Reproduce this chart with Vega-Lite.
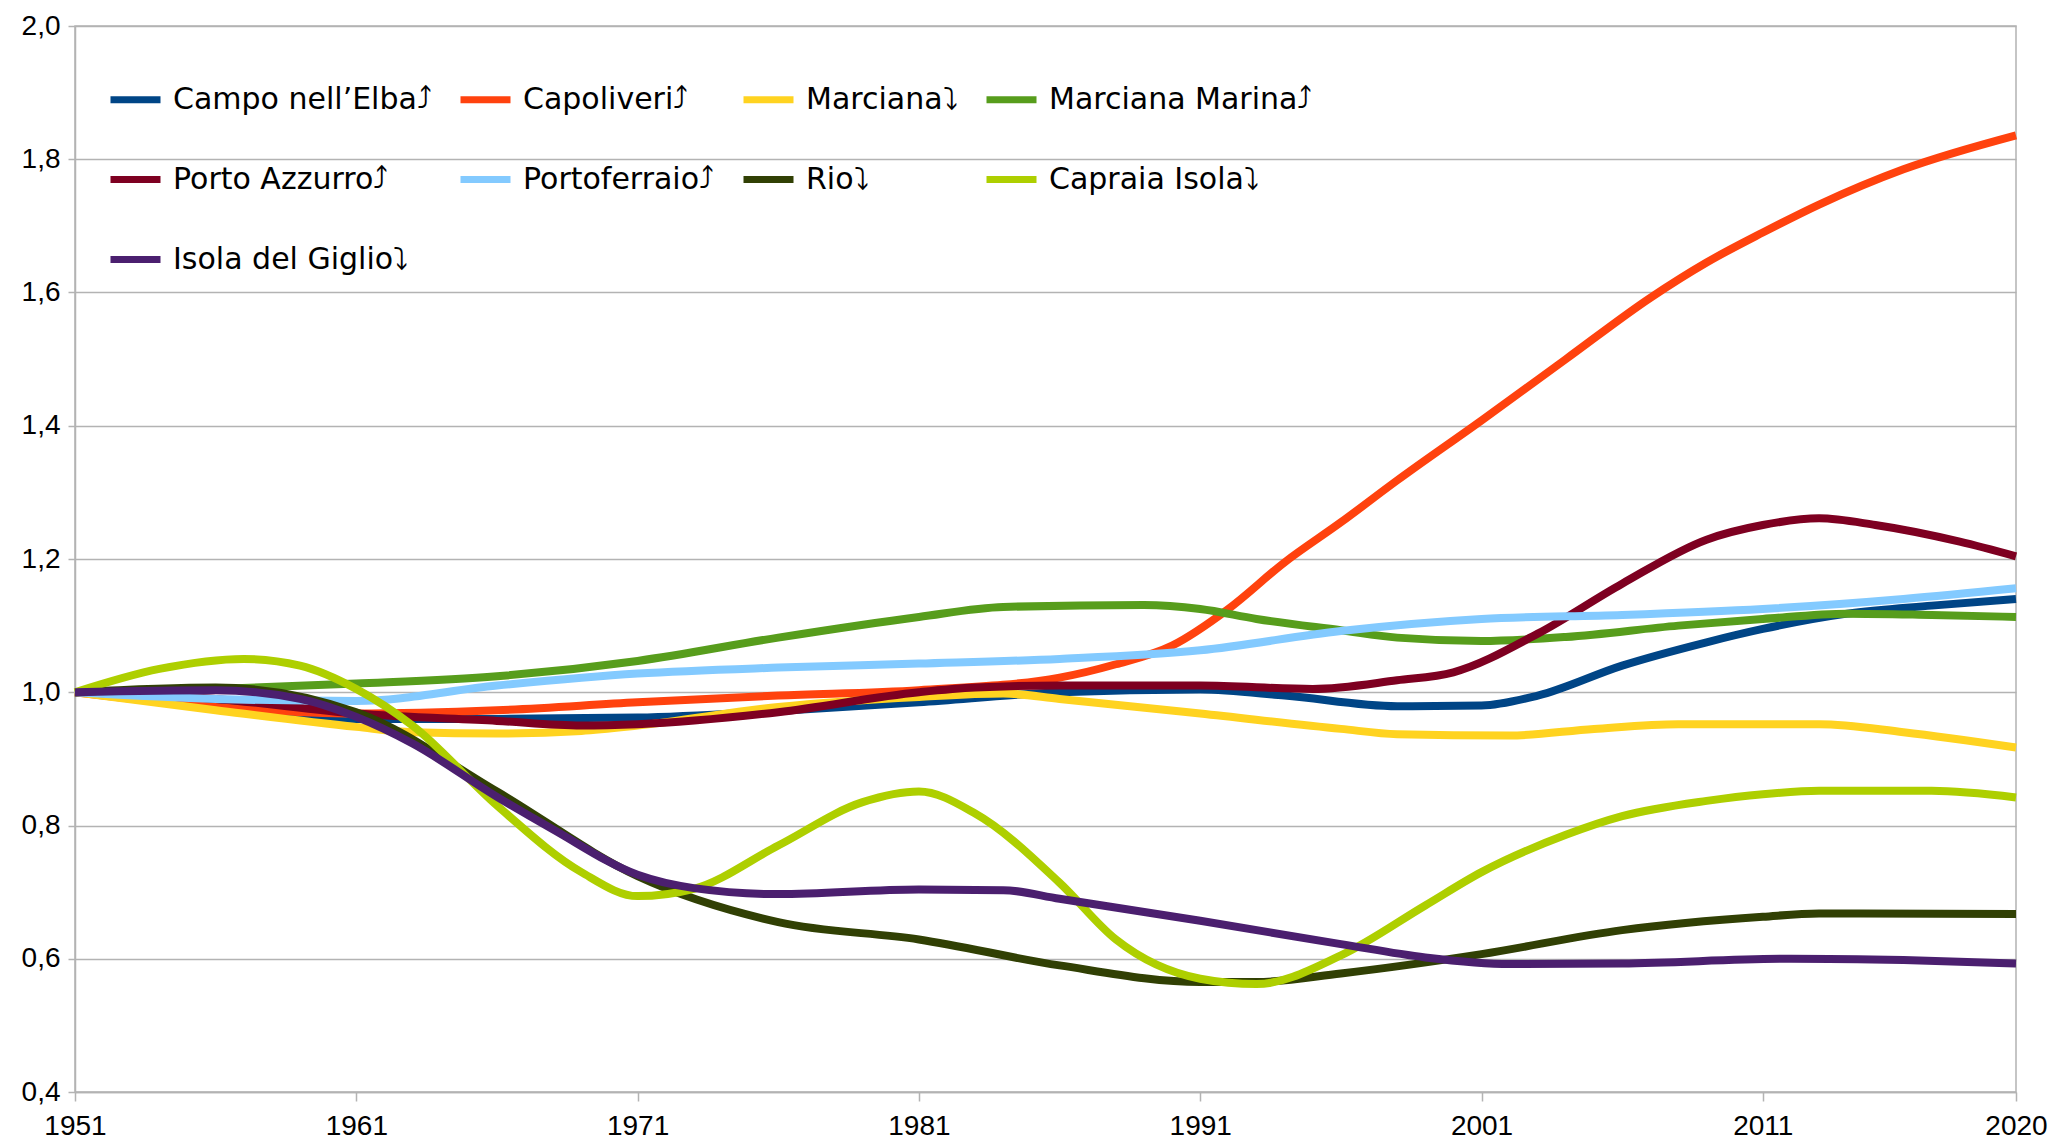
{
  "$schema": "https://vega.github.io/schema/vega-lite/v6.json",
  "width": 1941,
  "height": 1066,
  "autosize": "none",
  "padding": {"left": 75, "top": 26, "right": 37, "bottom": 50},
  "background": "white",
  "config": {
    "view": {"stroke": "#b3b3b3", "strokeWidth": 1.5},
    "font": "Liberation Sans Narrow, Liberation Sans, sans-serif"
  },
  "data": {"values": [
    {"c":"Campo nell’Elba","y":1951,"v":1.0},{"c":"Campo nell’Elba","y":1956,"v":0.985},{"c":"Campo nell’Elba","y":1961,"v":0.96},{"c":"Campo nell’Elba","y":1966,"v":0.96},{"c":"Campo nell’Elba","y":1971,"v":0.962},{"c":"Campo nell’Elba","y":1976,"v":0.972},{"c":"Campo nell’Elba","y":1981,"v":0.985},{"c":"Campo nell’Elba","y":1986,"v":1.0},{"c":"Campo nell’Elba","y":1991,"v":1.004},{"c":"Campo nell’Elba","y":1994,"v":0.995},{"c":"Campo nell’Elba","y":1998,"v":0.979},{"c":"Campo nell’Elba","y":2001,"v":0.98},{"c":"Campo nell’Elba","y":2003,"v":0.995},{"c":"Campo nell’Elba","y":2006,"v":1.04},{"c":"Campo nell’Elba","y":2009,"v":1.075},{"c":"Campo nell’Elba","y":2011,"v":1.095},{"c":"Campo nell’Elba","y":2014,"v":1.118},{"c":"Campo nell’Elba","y":2017,"v":1.13},{"c":"Campo nell’Elba","y":2020,"v":1.14},
    {"c":"Capoliveri","y":1951,"v":1.0},{"c":"Capoliveri","y":1956,"v":0.978},{"c":"Capoliveri","y":1961,"v":0.968},{"c":"Capoliveri","y":1966,"v":0.973},{"c":"Capoliveri","y":1971,"v":0.985},{"c":"Capoliveri","y":1976,"v":0.995},{"c":"Capoliveri","y":1981,"v":1.003},{"c":"Capoliveri","y":1986,"v":1.022},{"c":"Capoliveri","y":1988,"v":1.042},{"c":"Capoliveri","y":1990,"v":1.07},{"c":"Capoliveri","y":1992,"v":1.125},{"c":"Capoliveri","y":1994,"v":1.195},{"c":"Capoliveri","y":1996,"v":1.255},{"c":"Capoliveri","y":1998,"v":1.318},{"c":"Capoliveri","y":2001,"v":1.408},{"c":"Capoliveri","y":2004,"v":1.5},{"c":"Capoliveri","y":2007,"v":1.592},{"c":"Capoliveri","y":2009,"v":1.645},{"c":"Capoliveri","y":2011,"v":1.69},{"c":"Capoliveri","y":2013,"v":1.732},{"c":"Capoliveri","y":2016,"v":1.785},{"c":"Capoliveri","y":2020,"v":1.836},
    {"c":"Marciana","y":1951,"v":1.0},{"c":"Marciana","y":1956,"v":0.973},{"c":"Marciana","y":1961,"v":0.948},{"c":"Marciana","y":1963,"v":0.94},{"c":"Marciana","y":1966,"v":0.938},{"c":"Marciana","y":1969,"v":0.942},{"c":"Marciana","y":1971,"v":0.95},{"c":"Marciana","y":1976,"v":0.978},{"c":"Marciana","y":1981,"v":0.993},{"c":"Marciana","y":1984,"v":0.998},{"c":"Marciana","y":1986,"v":0.99},{"c":"Marciana","y":1991,"v":0.968},{"c":"Marciana","y":1996,"v":0.945},{"c":"Marciana","y":1998,"v":0.937},{"c":"Marciana","y":2002,"v":0.935},{"c":"Marciana","y":2005,"v":0.945},{"c":"Marciana","y":2008,"v":0.952},{"c":"Marciana","y":2013,"v":0.952},{"c":"Marciana","y":2016,"v":0.94},{"c":"Marciana","y":2020,"v":0.917},
    {"c":"Marciana Marina","y":1951,"v":1.0},{"c":"Marciana Marina","y":1956,"v":1.005},{"c":"Marciana Marina","y":1961,"v":1.013},{"c":"Marciana Marina","y":1966,"v":1.024},{"c":"Marciana Marina","y":1971,"v":1.047},{"c":"Marciana Marina","y":1976,"v":1.082},{"c":"Marciana Marina","y":1981,"v":1.113},{"c":"Marciana Marina","y":1984,"v":1.128},{"c":"Marciana Marina","y":1989,"v":1.131},{"c":"Marciana Marina","y":1991,"v":1.125},{"c":"Marciana Marina","y":1993,"v":1.11},{"c":"Marciana Marina","y":1996,"v":1.093},{"c":"Marciana Marina","y":1998,"v":1.082},{"c":"Marciana Marina","y":2001,"v":1.077},{"c":"Marciana Marina","y":2004,"v":1.083},{"c":"Marciana Marina","y":2008,"v":1.1},{"c":"Marciana Marina","y":2011,"v":1.11},{"c":"Marciana Marina","y":2014,"v":1.118},{"c":"Marciana Marina","y":2017,"v":1.116},{"c":"Marciana Marina","y":2020,"v":1.113},
    {"c":"Porto Azzurro","y":1951,"v":1.0},{"c":"Porto Azzurro","y":1956,"v":0.99},{"c":"Porto Azzurro","y":1961,"v":0.968},{"c":"Porto Azzurro","y":1966,"v":0.957},{"c":"Porto Azzurro","y":1969,"v":0.95},{"c":"Porto Azzurro","y":1971,"v":0.952},{"c":"Porto Azzurro","y":1976,"v":0.97},{"c":"Porto Azzurro","y":1981,"v":1.0},{"c":"Porto Azzurro","y":1983,"v":1.007},{"c":"Porto Azzurro","y":1986,"v":1.01},{"c":"Porto Azzurro","y":1991,"v":1.01},{"c":"Porto Azzurro","y":1995,"v":1.005},{"c":"Porto Azzurro","y":1998,"v":1.018},{"c":"Porto Azzurro","y":2000,"v":1.03},{"c":"Porto Azzurro","y":2003,"v":1.088},{"c":"Porto Azzurro","y":2006,"v":1.163},{"c":"Porto Azzurro","y":2009,"v":1.229},{"c":"Porto Azzurro","y":2011,"v":1.251},{"c":"Porto Azzurro","y":2013,"v":1.261},{"c":"Porto Azzurro","y":2015,"v":1.251},{"c":"Porto Azzurro","y":2018,"v":1.226},{"c":"Porto Azzurro","y":2020,"v":1.204},
    {"c":"Portoferraio","y":1951,"v":1.0},{"c":"Portoferraio","y":1956,"v":0.99},{"c":"Portoferraio","y":1961,"v":0.987},{"c":"Portoferraio","y":1966,"v":1.01},{"c":"Portoferraio","y":1971,"v":1.028},{"c":"Portoferraio","y":1976,"v":1.037},{"c":"Portoferraio","y":1981,"v":1.043},{"c":"Portoferraio","y":1986,"v":1.05},{"c":"Portoferraio","y":1991,"v":1.063},{"c":"Portoferraio","y":1996,"v":1.092},{"c":"Portoferraio","y":2001,"v":1.11},{"c":"Portoferraio","y":2006,"v":1.116},{"c":"Portoferraio","y":2011,"v":1.125},{"c":"Portoferraio","y":2016,"v":1.14},{"c":"Portoferraio","y":2020,"v":1.156},
    {"c":"Rio","y":1951,"v":1.0},{"c":"Rio","y":1956,"v":1.007},{"c":"Rio","y":1961,"v":0.97},{"c":"Rio","y":1966,"v":0.851},{"c":"Rio","y":1971,"v":0.724},{"c":"Rio","y":1976,"v":0.655},{"c":"Rio","y":1981,"v":0.629},{"c":"Rio","y":1986,"v":0.59},{"c":"Rio","y":1991,"v":0.565},{"c":"Rio","y":1993,"v":0.565},{"c":"Rio","y":1996,"v":0.578},{"c":"Rio","y":2001,"v":0.607},{"c":"Rio","y":2006,"v":0.643},{"c":"Rio","y":2011,"v":0.663},{"c":"Rio","y":2013,"v":0.668},{"c":"Rio","y":2020,"v":0.667},
    {"c":"Capraia Isola","y":1951,"v":1.0},{"c":"Capraia Isola","y":1954,"v":1.035},{"c":"Capraia Isola","y":1957,"v":1.05},{"c":"Capraia Isola","y":1959,"v":1.04},{"c":"Capraia Isola","y":1961,"v":1.005},{"c":"Capraia Isola","y":1963,"v":0.95},{"c":"Capraia Isola","y":1966,"v":0.83},{"c":"Capraia Isola","y":1969,"v":0.73},{"c":"Capraia Isola","y":1971,"v":0.694},{"c":"Capraia Isola","y":1973,"v":0.705},{"c":"Capraia Isola","y":1976,"v":0.77},{"c":"Capraia Isola","y":1979,"v":0.835},{"c":"Capraia Isola","y":1981,"v":0.851},{"c":"Capraia Isola","y":1983,"v":0.818},{"c":"Capraia Isola","y":1986,"v":0.714},{"c":"Capraia Isola","y":1988,"v":0.629},{"c":"Capraia Isola","y":1991,"v":0.57},{"c":"Capraia Isola","y":1993,"v":0.562},{"c":"Capraia Isola","y":1996,"v":0.605},{"c":"Capraia Isola","y":1999,"v":0.68},{"c":"Capraia Isola","y":2001,"v":0.73},{"c":"Capraia Isola","y":2004,"v":0.786},{"c":"Capraia Isola","y":2006,"v":0.814},{"c":"Capraia Isola","y":2009,"v":0.837},{"c":"Capraia Isola","y":2011,"v":0.847},{"c":"Capraia Isola","y":2013,"v":0.852},{"c":"Capraia Isola","y":2017,"v":0.852},{"c":"Capraia Isola","y":2020,"v":0.842},
    {"c":"Isola del Giglio","y":1951,"v":1.0},{"c":"Isola del Giglio","y":1956,"v":1.003},{"c":"Isola del Giglio","y":1959,"v":0.99},{"c":"Isola del Giglio","y":1961,"v":0.963},{"c":"Isola del Giglio","y":1963,"v":0.923},{"c":"Isola del Giglio","y":1966,"v":0.843},{"c":"Isola del Giglio","y":1968,"v":0.794},{"c":"Isola del Giglio","y":1971,"v":0.726},{"c":"Isola del Giglio","y":1973,"v":0.706},{"c":"Isola del Giglio","y":1976,"v":0.697},{"c":"Isola del Giglio","y":1981,"v":0.704},{"c":"Isola del Giglio","y":1984,"v":0.703},{"c":"Isola del Giglio","y":1986,"v":0.69},{"c":"Isola del Giglio","y":1991,"v":0.657},{"c":"Isola del Giglio","y":1996,"v":0.622},{"c":"Isola del Giglio","y":1999,"v":0.602},{"c":"Isola del Giglio","y":2002,"v":0.592},{"c":"Isola del Giglio","y":2006,"v":0.593},{"c":"Isola del Giglio","y":2012,"v":0.6},{"c":"Isola del Giglio","y":2016,"v":0.598},{"c":"Isola del Giglio","y":2020,"v":0.593}
  ]},
  "mark": {"type": "line", "interpolate": "monotone", "strokeWidth": 8},
  "encoding": {
    "x": {
      "field": "y", "type": "quantitative",
      "scale": {"domain": [1951, 2020], "nice": false, "zero": false},
      "axis": {
        "title": null, "values": [1951, 1961, 1971, 1981, 1991, 2001, 2011, 2020], "format": "d",
        "grid": false, "domainColor": "#b3b3b3", "domainWidth": 1.5, "tickColor": "#b3b3b3", "tickWidth": 1.5, "tickSize": 9,
        "labelFontSize": 28, "labelColor": "#000", "labelPadding": 11, "labelFlush": false
      }
    },
    "y": {
      "field": "v", "type": "quantitative",
      "scale": {"domain": [0.4, 2.0], "nice": false, "zero": false},
      "axis": {
        "title": null, "values": [0.4, 0.6, 0.8, 1.0, 1.2, 1.4, 1.6, 1.8, 2.0],
        "labelExpr": "replace(format(datum.value, '.1f'), '.', ',')",
        "grid": true, "gridColor": "#b3b3b3", "gridWidth": 1.5,
        "domainColor": "#b3b3b3", "domainWidth": 1.5, "tickColor": "#b3b3b3", "tickWidth": 1.5, "tickSize": 7,
        "labelFontSize": 28, "labelColor": "#000", "labelPadding": 8
      }
    },
    "color": {
      "field": "c", "type": "nominal",
      "scale": {
        "domain": ["Campo nell’Elba", "Capoliveri", "Marciana", "Marciana Marina", "Porto Azzurro", "Portoferraio", "Rio", "Capraia Isola", "Isola del Giglio"],
        "range": ["#004586", "#ff420e", "#ffd320", "#579d1c", "#7e0021", "#83caff", "#314004", "#aecf00", "#4b1f6f"]
      },
      "legend": {
        "title": null, "orient": "none", "legendX": 32, "legendY": 45, "columns": 4, "direction": "horizontal",
        "symbolType": "stroke", "symbolSize": 2500, "symbolStrokeWidth": 7,
        "labelFont": "DejaVu Sans", "labelFontSize": 30, "labelColor": "#000", "labelOffset": 9, "labelLimit": 500,
        "rowPadding": 36, "columnPadding": 14,
        "labelExpr": "indexof('|Campo nell’Elba|Capoliveri|Marciana Marina|Porto Azzurro|Portoferraio|', '|' + datum.label + '|') >= 0 ? datum.label + '⤴' : datum.label + '⤵'"
      }
    }
  }
}
